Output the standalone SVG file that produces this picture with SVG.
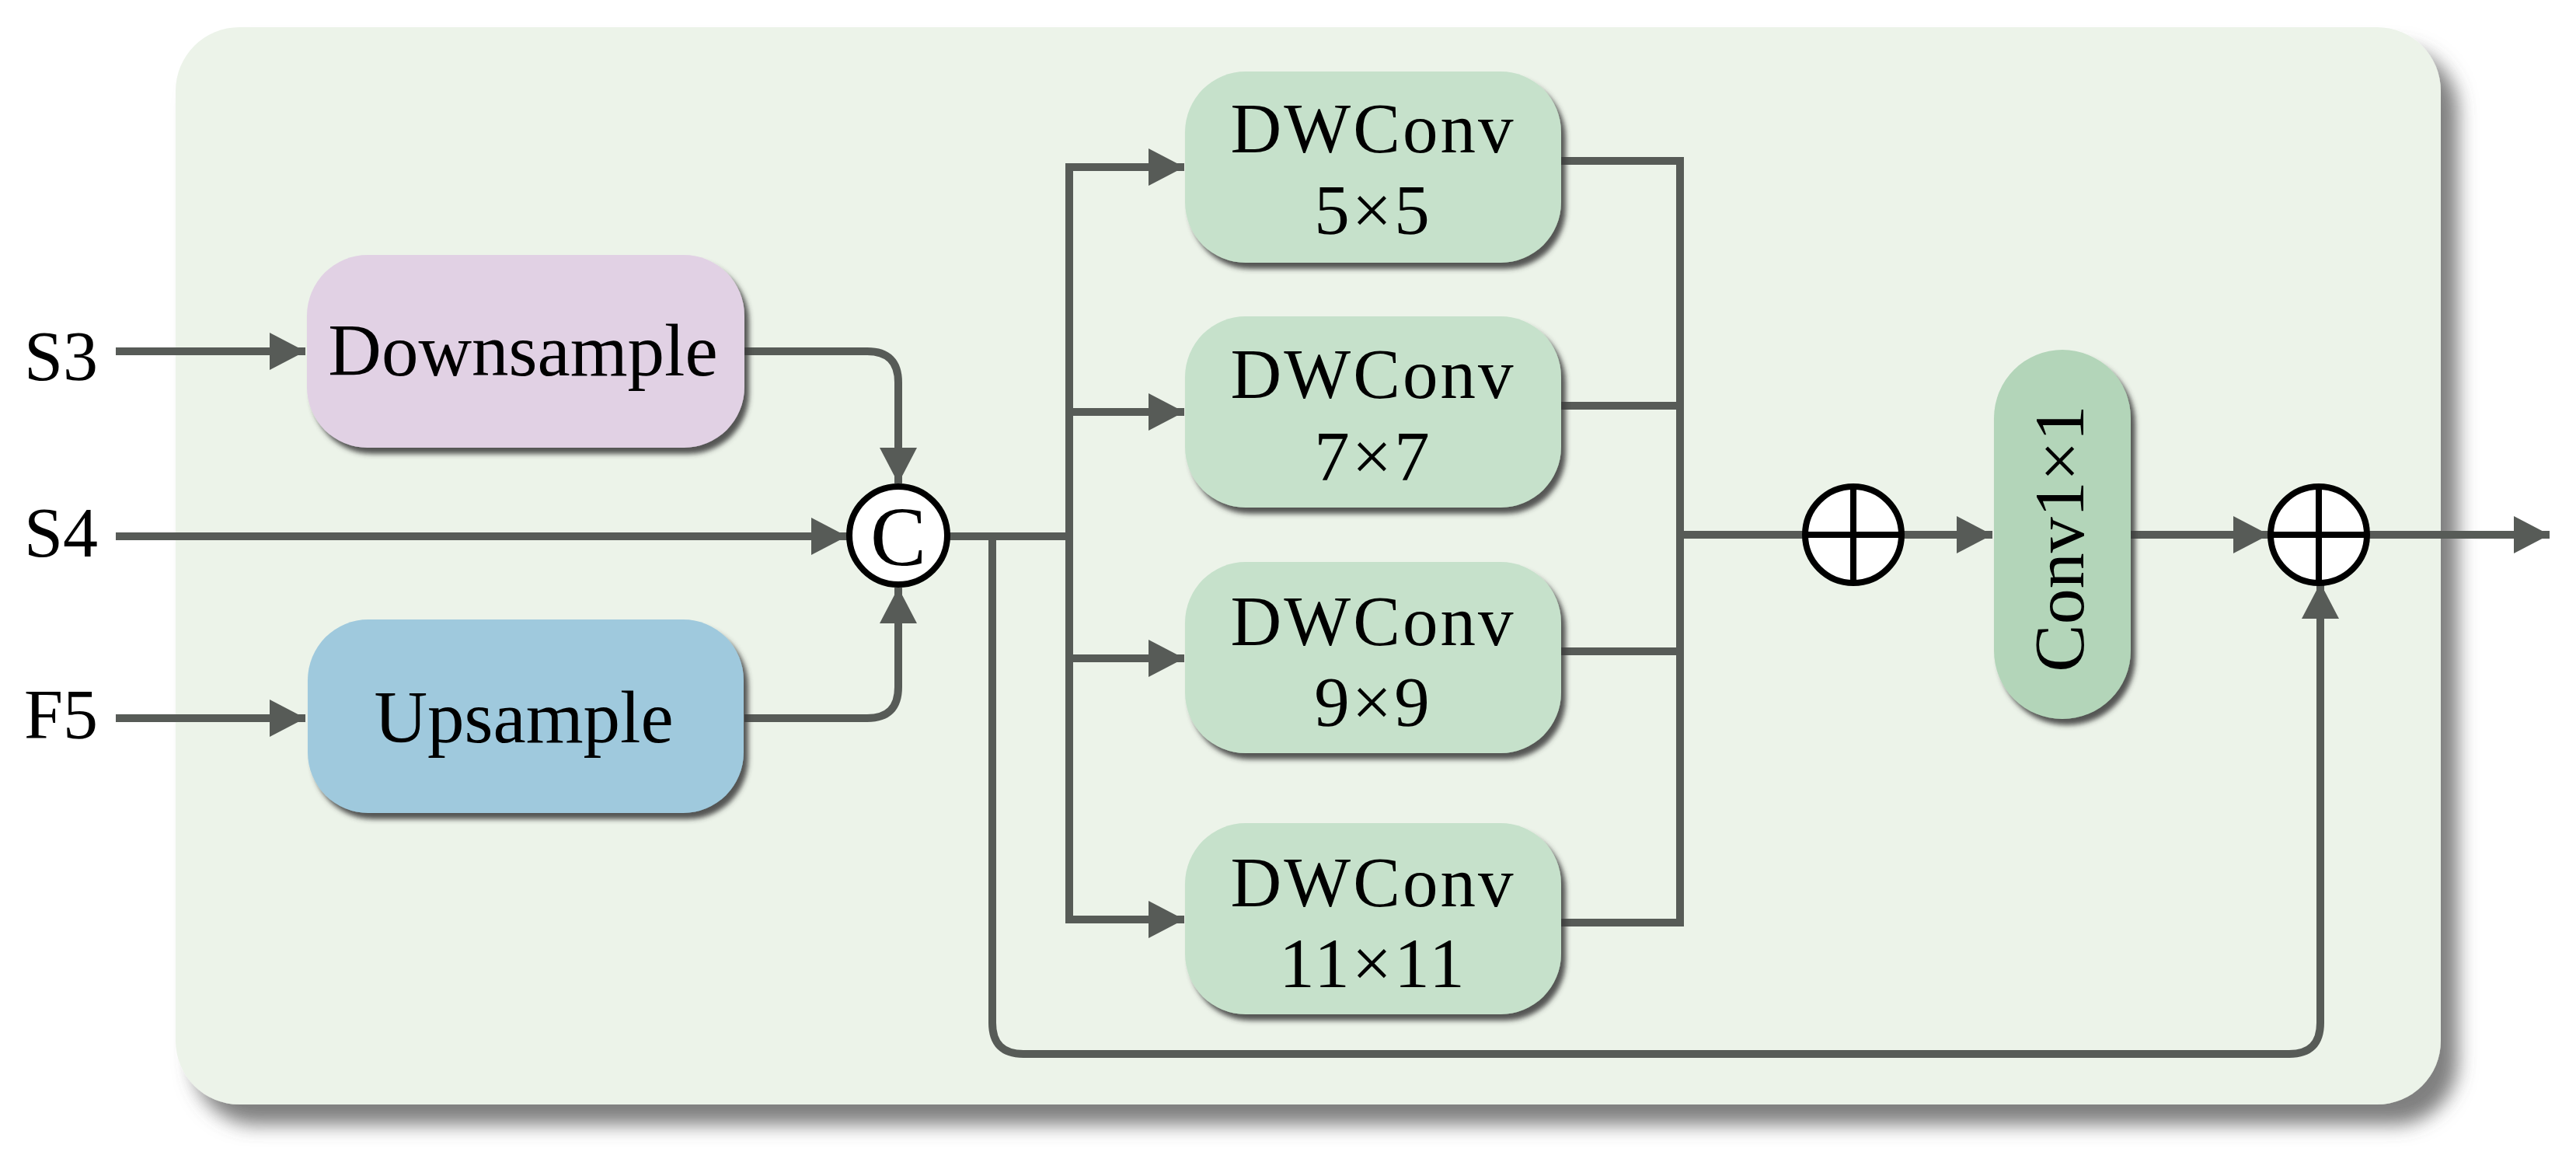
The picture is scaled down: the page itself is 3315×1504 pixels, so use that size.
<svg xmlns="http://www.w3.org/2000/svg" width="3315" height="1504" viewBox="0 0 3315 1504">
<defs>
<filter id="panelShadow" x="-5%" y="-5%" width="112%" height="115%">
<feDropShadow dx="22" dy="26" stdDeviation="12" flood-color="#555" flood-opacity="0.75"/>
</filter>
<filter id="boxShadow" x="-10%" y="-10%" width="125%" height="130%">
<feDropShadow dx="6" dy="8" stdDeviation="3" flood-color="#3a3a3a" flood-opacity="0.85"/>
</filter>
<marker id="arr" viewBox="0 0 46 48" refX="46" refY="24" markerWidth="46" markerHeight="48" markerUnits="userSpaceOnUse" orient="auto">
<path d="M0,0 L46,24 L0,48 Z" fill="#575b57"/>
</marker>
<style>
.t{font-family:"Liberation Serif","Times New Roman",serif;fill:#000;}
.lbl{font-size:90px;}
.box{font-size:95px;text-anchor:middle;}
.dw{font-size:91px;text-anchor:middle;letter-spacing:3px;}
.ln{fill:none;stroke:#575b57;stroke-width:10;}
.op{fill:#fff;stroke:#000;stroke-width:8;}
.dwc{fill:#c6e1cb;}
</style>
</defs>
<rect x="0" y="0" width="3315" height="1504" fill="#ffffff"/>
<g id="panel">
<rect x="226" y="35" width="2915" height="1386" rx="82" ry="82" fill="#ecf3e9" filter="url(#panelShadow)"/>
</g>
<g id="connectors">
<path class="ln" d="M149,452 H393" marker-end="url(#arr)"/>
<path class="ln" d="M149,690 H1090" marker-end="url(#arr)"/>
<path class="ln" d="M149,924 H393" marker-end="url(#arr)"/>
<path class="ln" d="M958,452 H1116 Q1156,452 1156,492 V622" marker-end="url(#arr)"/>
<path class="ln" d="M958,924 H1116 Q1156,924 1156,884 V756" marker-end="url(#arr)"/>
<path class="ln" d="M1219,690 H1376"/>
<path class="ln" d="M1376,215 V1183"/>
<path class="ln" d="M1371,215 H1524" marker-end="url(#arr)"/>
<path class="ln" d="M1371,530 H1524" marker-end="url(#arr)"/>
<path class="ln" d="M1371,847 H1524" marker-end="url(#arr)"/>
<path class="ln" d="M1371,1183 H1524" marker-end="url(#arr)"/>
<path class="ln" d="M1277,690 V1316 Q1277,1356 1317,1356 H2946 Q2986,1356 2986,1316 V750" marker-end="url(#arr)"/>
<path class="ln" d="M2009,207 H2162 V1187 H2009"/>
<path class="ln" d="M2009,522 H2162"/>
<path class="ln" d="M2009,838 H2162"/>
<path class="ln" d="M2162,688 H2323"/>
<path class="ln" d="M2447,688 H2564" marker-end="url(#arr)"/>
<path class="ln" d="M2742,688 H2920" marker-end="url(#arr)"/>
<path class="ln" d="M3046,688 H3281" marker-end="url(#arr)"/>
</g>
<g id="S3"><text class="t lbl" x="31" y="489">S3</text></g>
<g id="S4"><text class="t lbl" x="31" y="716">S4</text></g>
<g id="F5"><text class="t lbl" x="31" y="950">F5</text></g>
<g id="downsample">
<rect x="395" y="328" width="563" height="248" rx="78" fill="#e1d1e4" filter="url(#boxShadow)"/>
<text class="t box" x="673" y="483">Downsample</text>
</g>
<g id="upsample">
<rect x="396" y="797" width="561" height="249" rx="78" fill="#9fc9dd" filter="url(#boxShadow)"/>
<text class="t box" x="674" y="955">Upsample</text>
</g>
<g id="concat">
<circle class="op" cx="1156" cy="689" r="63"/>
<text class="t" x="1156" y="727" font-size="108" text-anchor="middle">C</text>
</g>
<g id="dw5">
<rect class="dwc" x="1525" y="92" width="484" height="246" rx="78" filter="url(#boxShadow)"/>
<text class="t dw" x="1767" y="196">DWConv</text>
<text class="t dw" x="1767" y="301">5×5</text>
</g>
<g id="dw7">
<rect class="dwc" x="1525" y="407" width="484" height="246" rx="78" filter="url(#boxShadow)"/>
<text class="t dw" x="1767" y="512">DWConv</text>
<text class="t dw" x="1767" y="618">7×7</text>
</g>
<g id="dw9">
<rect class="dwc" x="1525" y="723" width="484" height="246" rx="78" filter="url(#boxShadow)"/>
<text class="t dw" x="1767" y="830">DWConv</text>
<text class="t dw" x="1767" y="934">9×9</text>
</g>
<g id="dw11">
<rect class="dwc" x="1525" y="1059" width="484" height="246" rx="78" filter="url(#boxShadow)"/>
<text class="t dw" x="1767" y="1166">DWConv</text>
<text class="t dw" x="1767" y="1270">11×11</text>
</g>
<g id="add1">
<circle class="op" cx="2385" cy="688" r="62"/>
<path d="M2323,688 H2447 M2385,626 V750" stroke="#000" stroke-width="8"/>
</g>
<g id="conv1x1">
<rect x="2566" y="450" width="176" height="475" rx="88" fill="#b3d5b9" filter="url(#boxShadow)"/>
<text class="t" x="0" y="0" font-size="92" text-anchor="middle" transform="translate(2681,693) rotate(-90)">Conv1×1</text>
</g>
<g id="add2">
<circle class="op" cx="2984" cy="688" r="62"/>
<path d="M2922,688 H3046 M2984,626 V750" stroke="#000" stroke-width="8"/>
</g>
</svg>
